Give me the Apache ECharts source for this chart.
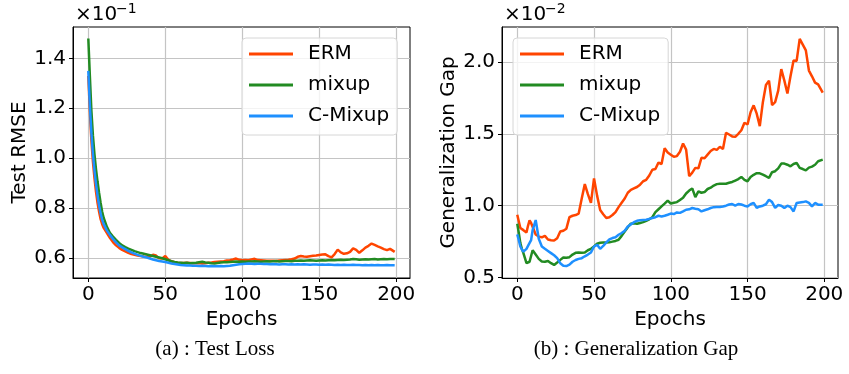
<!DOCTYPE html>
<html>
<head>
<meta charset="utf-8">
<script src="https://cdn.jsdelivr.net/npm/echarts@6/dist/echarts.min.js"></script>
<style>
  html, body { margin: 0; padding: 0; background: #fff; }
  #main { width: 849px; height: 374px; }
</style>
</head>
<body>
<div id="main"></div>
<script>
// epochs (denser at the start where the curves drop fast)
const epochs = [0, 1, 2, 3, 4, 5, 6, 7, 8, 9, 10,
  12, 14, 16, 18, 20, 22, 24, 26, 28, 30,
  32, 34, 36, 38, 40, 42, 44, 46, 48, 50,
  52, 54, 56, 58, 60, 62, 64, 66, 68, 70,
  72, 74, 76, 78, 80, 82, 84, 86, 88, 90,
  92, 94, 96, 98, 100, 102, 104, 106, 108, 110,
  112, 114, 116, 118, 120, 122, 124, 126, 128, 130,
  132, 134, 136, 138, 140, 142, 144, 146, 148, 150,
  152, 154, 156, 158, 160, 162, 164, 166, 168, 170,
  172, 174, 176, 178, 180, 182, 184, 186, 188, 190,
  192, 194, 196, 199];

// (a) test RMSE, x1e-1
const ermRmse = [1.33, 1.19, 1.07, 0.985, 0.92, 0.865, 0.82, 0.785, 0.755, 0.735, 0.72,
  0.70, 0.68, 0.663, 0.65, 0.64, 0.632, 0.626, 0.62, 0.615, 0.612,
  0.609, 0.607, 0.605, 0.604, 0.605, 0.612, 0.609, 0.598, 0.597, 0.607,
  0.592, 0.586, 0.582, 0.580, 0.579, 0.579, 0.580, 0.579, 0.578, 0.578,
  0.579, 0.577, 0.578, 0.580, 0.581, 0.583, 0.584, 0.585, 0.586, 0.589,
  0.590, 0.593, 0.597, 0.592, 0.590, 0.591, 0.590, 0.593, 0.596, 0.591,
  0.590, 0.589, 0.588, 0.588, 0.588, 0.587, 0.589, 0.590, 0.591, 0.592,
  0.594, 0.597, 0.604, 0.607, 0.605, 0.604, 0.606, 0.608, 0.609, 0.611,
  0.613, 0.614, 0.607, 0.602, 0.615, 0.633, 0.622, 0.616, 0.618, 0.624,
  0.638, 0.632, 0.620, 0.630, 0.641, 0.648, 0.657, 0.652, 0.646, 0.641,
  0.635, 0.631, 0.636, 0.624];
const mixupRmse = [1.48, 1.33, 1.19, 1.09, 1.015, 0.955, 0.905, 0.86, 0.82, 0.785, 0.76,
  0.725, 0.70, 0.685, 0.672, 0.66, 0.65, 0.643, 0.637, 0.632, 0.627,
  0.623, 0.619, 0.616, 0.613, 0.61, 0.607, 0.604, 0.601, 0.598, 0.594,
  0.590, 0.586, 0.583, 0.581, 0.580, 0.579, 0.580, 0.578, 0.579, 0.580,
  0.582, 0.584, 0.581, 0.580, 0.578, 0.577, 0.579, 0.581, 0.582, 0.582,
  0.583, 0.584, 0.585, 0.584, 0.585, 0.584, 0.585, 0.585, 0.586, 0.585,
  0.584, 0.585, 0.586, 0.585, 0.586, 0.587, 0.585, 0.586, 0.587, 0.587,
  0.586, 0.588, 0.588, 0.589, 0.588, 0.589, 0.590, 0.589, 0.588, 0.589,
  0.590, 0.589, 0.590, 0.591, 0.590, 0.591, 0.592, 0.591, 0.592, 0.593,
  0.595, 0.594, 0.592, 0.593, 0.594, 0.593, 0.594, 0.595, 0.593, 0.594,
  0.595, 0.594, 0.595, 0.595];
const cmixRmse = [1.35, 1.21, 1.10, 1.015, 0.95, 0.895, 0.85, 0.81, 0.778, 0.752, 0.735,
  0.71, 0.692, 0.676, 0.662, 0.65, 0.642, 0.635, 0.628, 0.622, 0.617,
  0.612, 0.608, 0.604, 0.601, 0.597, 0.593, 0.590, 0.587, 0.585, 0.583,
  0.580, 0.577, 0.575, 0.573, 0.571, 0.570, 0.569, 0.569, 0.568, 0.568,
  0.567, 0.568, 0.567, 0.566, 0.567, 0.566, 0.566, 0.567, 0.566, 0.567,
  0.568, 0.570, 0.572, 0.574, 0.575, 0.576, 0.577, 0.576, 0.575, 0.576,
  0.576, 0.575, 0.575, 0.574, 0.575, 0.574, 0.573, 0.574, 0.574, 0.573,
  0.574, 0.573, 0.574, 0.573, 0.574, 0.573, 0.572, 0.573, 0.573, 0.572,
  0.573, 0.572, 0.573, 0.572, 0.571, 0.572, 0.571, 0.572, 0.571, 0.571,
  0.572, 0.571, 0.571, 0.570, 0.571, 0.570, 0.571, 0.570, 0.571, 0.570,
  0.570, 0.571, 0.570, 0.570];

// (b) generalization gap, x1e-2
const ermGap = [0.937, 0.89, 0.845, 0.835, 0.83, 0.82, 0.814, 0.86, 0.898, 0.88, 0.867,
  0.80, 0.785, 0.78, 0.79, 0.765, 0.76, 0.758, 0.774, 0.82, 0.826,
  0.84, 0.92, 0.93, 0.935, 0.945, 1.05, 1.15, 1.08, 1.02, 1.19,
  1.07, 0.97, 0.94, 0.914, 0.92, 0.935, 0.955, 0.99, 1.02, 1.05,
  1.09, 1.11, 1.12, 1.13, 1.146, 1.17, 1.18, 1.21, 1.25, 1.255,
  1.30, 1.29, 1.40, 1.37, 1.355, 1.34, 1.345, 1.375, 1.433, 1.39,
  1.205, 1.23, 1.263, 1.26, 1.333, 1.33, 1.355, 1.38, 1.395, 1.388,
  1.41, 1.395, 1.507, 1.495, 1.482, 1.479, 1.50, 1.525, 1.577, 1.565,
  1.65, 1.698, 1.64, 1.553, 1.72, 1.84, 1.87, 1.70, 1.72, 1.80,
  1.95, 1.87, 1.78, 1.90, 2.01, 2.007, 2.16, 2.12, 2.08, 1.94,
  1.90, 1.856, 1.844, 1.786];
const mixupGap = [0.874, 0.81, 0.74, 0.70, 0.67, 0.635, 0.60, 0.602, 0.61, 0.65, 0.69,
  0.66, 0.63, 0.612, 0.61, 0.615, 0.60, 0.588, 0.605, 0.623, 0.64,
  0.638, 0.642, 0.66, 0.672, 0.674, 0.673, 0.675, 0.69, 0.70, 0.716,
  0.735, 0.742, 0.744, 0.744, 0.745, 0.75, 0.755, 0.763, 0.79, 0.82,
  0.85, 0.875, 0.878, 0.874, 0.88, 0.886, 0.895, 0.905, 0.92, 0.955,
  0.975, 0.995, 1.014, 1.035, 1.015, 1.02, 1.025, 1.04, 1.055, 1.085,
  1.105, 1.12, 1.06, 1.10, 1.09, 1.095, 1.116, 1.125, 1.14, 1.15,
  1.153, 1.152, 1.153, 1.16, 1.165, 1.175, 1.185, 1.20, 1.18, 1.17,
  1.20, 1.215, 1.226, 1.225, 1.216, 1.205, 1.193, 1.233, 1.24, 1.26,
  1.293, 1.293, 1.285, 1.274, 1.29, 1.298, 1.263, 1.255, 1.246, 1.265,
  1.272, 1.285, 1.309, 1.32];
const cmixGap = [0.80, 0.76, 0.716, 0.695, 0.68, 0.69, 0.70, 0.72, 0.73, 0.76, 0.83,
  0.90, 0.77, 0.716, 0.70, 0.685, 0.67, 0.655, 0.635, 0.60, 0.582,
  0.58, 0.59, 0.61, 0.622, 0.63, 0.635, 0.648, 0.66, 0.674, 0.716,
  0.728, 0.70, 0.72, 0.745, 0.765, 0.775, 0.781, 0.798, 0.81, 0.825,
  0.855, 0.87, 0.885, 0.895, 0.898, 0.90, 0.902, 0.908, 0.914, 0.92,
  0.93, 0.925, 0.93, 0.937, 0.945, 0.942, 0.953, 0.95, 0.96, 0.972,
  0.975, 0.984, 0.979, 0.975, 0.96, 0.968, 0.975, 0.984, 0.99, 0.991,
  0.991, 0.995, 1.00, 1.008, 1.012, 1.0, 1.012, 1.008, 1.0, 0.995,
  1.01, 1.02, 0.985, 0.995, 1.0, 1.01, 1.042, 1.025, 0.985, 1.005,
  1.0, 0.984, 1.0, 0.99, 0.96, 1.019, 1.022, 1.025, 1.03, 1.02,
  0.995, 1.019, 1.007, 1.007];

const xTicks = [0, 50, 100, 150, 200];
const rmseTicks = [0.6, 0.8, 1.0, 1.2, 1.4];
const gapTicks = [0.5, 1.0, 1.5, 2.0];

const names = ['ERM', 'mixup', 'C-Mixup'];
const colors = ['#ff4500', '#228b22', '#1e90ff'];

const FONT = 'DejaVu Sans';
const gridColor = '#c4c4c4';

function pairs(vals) {
  return epochs.map((e, i) => [e, vals[i]]);
}

function xAxis(idx) {
  return {
    type: 'value', gridIndex: idx, min: -9.95, max: 208.95,
    name: 'Epochs', nameLocation: 'middle', nameGap: 29,
    nameTextStyle: { fontFamily: FONT, fontSize: 20, color: '#000' },
    axisLine: { show: true, onZero: false, lineStyle: { color: '#000', width: 1 } },
    axisTick: { show: true, inside: false, length: 4, customValues: xTicks, lineStyle: { color: '#000' } },
    axisLabel: { customValues: xTicks, margin: 7, fontFamily: FONT, fontSize: 20, color: '#000' },
    splitLine: { show: true, lineStyle: { color: gridColor, width: 1.2 } }
  };
}

function yAxis(idx, min, max, ticks, name) {
  return {
    type: 'value', gridIndex: idx, min: min, max: max,
    name: name, nameLocation: 'middle', nameGap: 43,
    nameTextStyle: { fontFamily: FONT, fontSize: 20, color: '#000' },
    axisLine: { show: true, onZero: false, lineStyle: { color: '#000', width: 1 } },
    axisTick: { show: true, inside: false, length: 4, customValues: ticks, lineStyle: { color: '#000' } },
    axisLabel: {
      customValues: ticks, margin: 7, fontFamily: FONT, fontSize: 20, color: '#000',
      formatter: v => v.toFixed(1)
    },
    splitLine: { show: true, lineStyle: { color: gridColor, width: 1.2 } }
  };
}

function legend(left) {
  return {
    orient: 'vertical', left: left, top: 38,
    data: names,
    icon: 'rect', itemWidth: 44, itemHeight: 3, itemGap: 9,
    padding: [5, 8, 8, 7],
    borderColor: '#d6d6d6', borderWidth: 1, borderRadius: 4,
    backgroundColor: 'rgba(255,255,255,0.8)',
    textStyle: { fontFamily: FONT, fontSize: 20, color: '#000', lineHeight: 22, padding: [0, 0, 0, 10] },
    selectedMode: false
  };
}

function lines(sets, idx) {
  return sets.map((vals, k) => ({
    name: names[k], type: 'line', xAxisIndex: idx, yAxisIndex: idx,
    data: pairs(vals), showSymbol: false, symbol: 'none',
    lineStyle: { color: colors[k], width: 2.5 },
    itemStyle: { color: colors[k] },
    animation: false, z: 3 + k
  }));
}

const chart = echarts.init(document.getElementById('main'), null, { renderer: 'canvas' });
chart.setOption({
  animation: false,
  grid: [
    { left: 73, top: 27, width: 337, height: 251, show: true, borderColor: '#000', borderWidth: 1, containLabel: false },
    { left: 502, top: 27, width: 336, height: 251, show: true, borderColor: '#000', borderWidth: 1, containLabel: false }
  ],
  xAxis: [xAxis(0), xAxis(1)],
  yAxis: [
    yAxis(0, 0.519, 1.526, rmseTicks, 'Test RMSE'),
    yAxis(1, 0.497, 2.243, gapTicks, 'Generalization Gap')
  ],
  legend: [legend(242), legend(513)],
  series: lines([ermRmse, mixupRmse, cmixRmse], 0).concat(lines([ermGap, mixupGap, cmixGap], 1)),
  graphic: [
    { type: 'text', left: 75, top: 5, style: { text: '×10', font: '20px "DejaVu Sans"', fill: '#000' } },
    { type: 'text', left: 116, top: 2, style: { text: '−1', font: '14px "DejaVu Sans"', fill: '#000' } },
    { type: 'text', left: 504, top: 5, style: { text: '×10', font: '20px "DejaVu Sans"', fill: '#000' } },
    { type: 'text', left: 545, top: 2, style: { text: '−2', font: '14px "DejaVu Sans"', fill: '#000' } },
    { type: 'text', x: 215, y: 349, style: { text: '(a) : Test Loss', font: '21px "Liberation Serif"', fill: '#000', align: 'center', verticalAlign: 'middle' } },
    { type: 'text', x: 636, y: 349, style: { text: '(b) : Generalization Gap', font: '21px "Liberation Serif"', fill: '#000', align: 'center', verticalAlign: 'middle' } }
  ]
});
</script>
</body>
</html>
